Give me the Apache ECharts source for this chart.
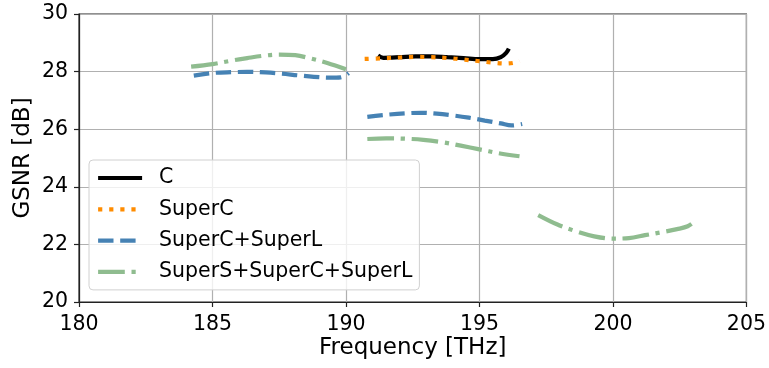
<!DOCTYPE html>
<html>
<head>
<meta charset="utf-8">
<script src="https://cdn.jsdelivr.net/npm/echarts@6/dist/echarts.min.js"></script>
<style>
  html, body { margin: 0; padding: 0; background: #fff; }
  #chart { width: 769px; height: 368px; }
</style>
</head>
<body>
<div id="chart"></div>
<script>
// GSNR per band versus carrier frequency; null marks a break between bands.
const seriesNames = ['C', 'SuperC', 'SuperC+SuperL', 'SuperS+SuperC+SuperL'];

const freqC = [191.2, 191.4, 192.0, 192.6, 193.2, 193.8, 194.4, 195.0, 195.5, 195.8, 196.0, 196.1];
const gsnrC = [28.56, 28.48, 28.50, 28.53, 28.53, 28.50, 28.47, 28.43, 28.43, 28.50, 28.65, 28.80];

const freqSuperC = [190.7, 191.3, 192.0, 192.6, 193.2, 193.8, 194.4, 195.0, 195.5, 196.0, 196.3, 196.5];
const gsnrSuperC = [28.44, 28.46, 28.49, 28.51, 28.50, 28.47, 28.42, 28.36, 28.31, 28.28, 28.31, 28.38];

const freqSuperCL = [184.3, 185.0, 185.7, 186.3, 187.0, 187.6, 188.2, 188.8, 189.4, 189.8, 190.1, null,
                     190.8, 191.5, 192.2, 192.8, 193.4, 194.0, 194.6, 195.2, 195.8, 196.2, 196.6];
const gsnrSuperCL = [27.86, 27.95, 27.98, 27.99, 27.97, 27.93, 27.87, 27.82, 27.79, 27.80, 27.95, null,
                     26.43, 26.50, 26.55, 26.57, 26.54, 26.48, 26.40, 26.30, 26.20, 26.13, 26.18];

const freqSuperSCL = [184.2, 185.0, 185.7, 186.3, 186.9, 187.5, 188.1, 188.7, 189.3, 190.0, null,
                      190.8, 191.5, 192.2, 192.9, 193.6, 194.3, 195.0, 195.7, 196.5, null,
                      197.2, 197.9, 198.6, 199.3, 200.0, 200.6, 201.2, 201.8, 202.4, 202.8, 203.1];
const gsnrSuperSCL = [28.17, 28.26, 28.38, 28.47, 28.55, 28.59, 28.57, 28.45, 28.30, 28.08, null,
                      25.66, 25.68, 25.67, 25.63, 25.55, 25.43, 25.30, 25.17, 25.06, null,
                      23.02, 22.70, 22.46, 22.28, 22.20, 22.22, 22.32, 22.42, 22.53, 22.63, 22.83];

const xTicks = [180, 185, 190, 195, 200, 205];
const yTicks = [20, 22, 24, 26, 28, 30];

function pairs(xs, ys) {
  return xs.map((x, i) => (x === null ? [NaN, '-'] : [x, ys[i]]));
}

const FONT = 'DejaVu Sans';
const LW = 4.2;
const chart = echarts.init(document.getElementById('chart'), null, { renderer: 'canvas' });

function lineSeries(name, data, color, dash, z) {
  return {
    name: name,
    type: 'line',
    data: data,
    symbol: 'none',
    smooth: 0.35,
    connectNulls: false,
    z: z,
    lineStyle: { color: color, width: LW, type: dash, cap: 'butt' },
    itemStyle: { color: color },
    emphasis: { disabled: true }
  };
}

chart.setOption({
  animation: false,
  grid: {
    left: 79, right: 20, top: 14, bottom: 66,
    show: true, borderColor: '#222', borderWidth: 1.2, backgroundColor: 'transparent'
  },
  xAxis: {
    type: 'value', min: xTicks[0], max: xTicks[xTicks.length - 1], interval: 5,
    name: 'Frequency [THz]', nameLocation: 'middle', nameGap: 35, nameMoveOverlap: false,
    nameTextStyle: { fontFamily: FONT, fontSize: 23, color: '#000' },
    axisLine: { show: true, lineStyle: { color: '#222', width: 1.2 } },
    axisTick: { show: true, inside: false, length: 5, lineStyle: { color: '#222', width: 1.2 } },
    axisLabel: { fontFamily: FONT, fontSize: 20.5, color: '#000', margin: 12 },
    splitLine: { show: true, lineStyle: { color: '#b0b0b0', width: 1.2 } }
  },
  yAxis: {
    type: 'value', min: yTicks[0], max: yTicks[yTicks.length - 1], interval: 2,
    name: 'GSNR [dB]', nameLocation: 'middle', nameGap: 44, nameRotate: 90, nameMoveOverlap: false,
    nameTextStyle: { fontFamily: FONT, fontSize: 23, color: '#000' },
    axisLine: { show: true, lineStyle: { color: '#222', width: 1.2 } },
    axisTick: { show: true, inside: false, length: 5, lineStyle: { color: '#222', width: 1.2 } },
    axisLabel: { fontFamily: FONT, fontSize: 20.5, color: '#000', margin: 11 },
    splitLine: { show: true, lineStyle: { color: '#b0b0b0', width: 1.2 } }
  },
  legend: {
    data: seriesNames,
    orient: 'vertical',
    left: 89, top: 160,
    padding: [7, 7, 7, 7],
    itemWidth: 44, itemHeight: 12, itemGap: 9.3,
    itemStyle: { opacity: 0 },
    lineStyle: { width: LW, cap: 'butt' },
    backgroundColor: 'rgba(255,255,255,0.8)',
    borderColor: '#d0d0d0', borderWidth: 1, borderRadius: 4,
    textStyle: { fontFamily: FONT, fontSize: 20.5, color: '#000', lineHeight: 22, padding: [0, 0, 0, 12] },
    selectedMode: false
  },
  series: [
    lineSeries(seriesNames[0], pairs(freqC, gsnrC), '#000000', 'solid', 4),
    lineSeries(seriesNames[1], pairs(freqSuperC, gsnrSuperC), '#ff8c00', [4.2, 6.9], 5),
    lineSeries(seriesNames[2], pairs(freqSuperCL, gsnrSuperCL), '#4682b4', [15.4, 6.7], 3),
    lineSeries(seriesNames[3], pairs(freqSuperSCL, gsnrSuperSCL), '#8fbc8f', [26.7, 6.7, 4.2, 6.7], 2)
  ]
});
</script>
</body>
</html>
